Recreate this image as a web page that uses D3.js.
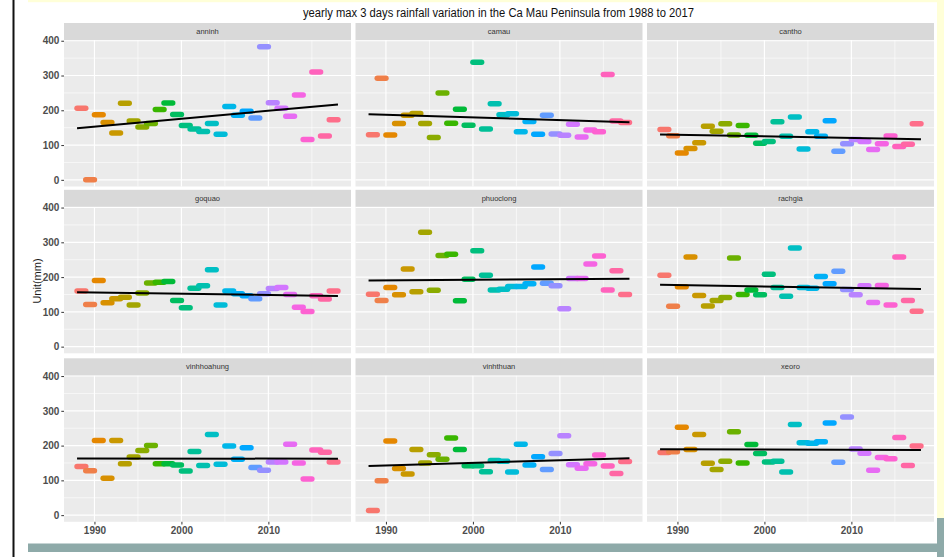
<!DOCTYPE html>
<html>
<head>
<meta charset="utf-8">
<script src="https://cdn.jsdelivr.net/npm/d3@7"></script>
<style>
  html, body { margin: 0; padding: 0; background: #ffffff; }
  svg { display: block; font-family: "Liberation Sans", Arial, sans-serif; }
</style>
</head>
<body>
<svg id="chart" width="944" height="557"></svg>
<script>
// ---- data -------------------------------------------------------------
const chartTitle = "yearly max 3 days rainfall variation in the Ca Mau Peninsula from 1988 to 2017";
const yAxisTitle = "Unit(mm)";
const years = d3.range(1988, 2018);
const stations = ["anninh", "camau", "cantho", "goquao", "phuoclong", "rachgia", "vinhhoahung", "vinhthuan", "xeoro"];

// yearly maximum 3-day rainfall (mm), 1988..2017
const anninh      = [206, 0, 187, 165, 135, 220, 169, 152, 162, 202, 221, 188, 156, 146, 139, 162, 131, 211, 186, 197, 178, 383, 222, 206, 183, 244, 116, 310, 126, 173];
const camau       = [130, 292, 129, 162, 186, 191, 162, 122, 250, 163, 203, 157, 338, 146, 219, 187, 190, 138, 168, 131, 186, 132, 128, 160, 123, 143, 138, 303, 169, 165];
const cantho      = [145, 127, 77, 90, 107, 154, 140, 161, 129, 156, 128, 105, 110, 167, 125, 181, 89, 138, 125, 170, 82, 104, 116, 110, 87, 104, 126, 96, 102, 161];
const goquao      = [160, 121, 190, 126, 138, 142, 120, 154, 183, 185, 187, 133, 112, 168, 175, 221, 120, 160, 152, 146, 138, 152, 167, 170, 150, 113, 101, 146, 137, 160];
const phuoclong   = [151, 133, 170, 149, 223, 158, 329, 162, 262, 266, 132, 194, 276, 205, 163, 165, 173, 173, 181, 229, 182, 175, 109, 196, 196, 238, 261, 163, 218, 150];
const rachgia     = [205, 116, 172, 258, 147, 117, 133, 141, 255, 150, 163, 149, 208, 170, 145, 284, 170, 168, 202, 181, 217, 164, 149, 175, 127, 176, 120, 258, 133, 102];
const vinhhoahung = [140, 128, 215, 106, 215, 148, 167, 186, 200, 148, 148, 144, 127, 183, 143, 232, 146, 199, 161, 194, 137, 129, 153, 153, 204, 150, 104, 187, 181, 153];
const vinhthuan   = [13, 99, 213, 134, 118, 189, 150, 174, 161, 222, 189, 142, 142, 125, 157, 155, 124, 204, 144, 168, 131, 177, 228, 145, 135, 148, 173, 141, 120, 154];
const xeoro       = [180, 182, 253, 189, 232, 149, 131, 155, 240, 150, 203, 177, 153, 155, 124, 261, 208, 207, 211, 265, 152, 282, 190, 178, 129, 166, 162, 223, 143, 199];

const seriesByStation = { anninh, camau, cantho, goquao, phuoclong, rachgia, vinhhoahung, vinhthuan, xeoro };

const yTicks = [0, 100, 200, 300, 400];
const yMinor = [50, 150, 250, 350];
const xTicks = [1990, 2000, 2010];
const xMinor = [1995, 2005, 2015];

// ---- discrete hue palette (HCL / polar Luv, c = 100, l = 65) ----------
function polarLuvToHex(h, c, l) {
  const WX = 95.047, WY = 100.0, WZ = 108.883;
  const hr = h * Math.PI / 180;
  const U = c * Math.cos(hr), V = c * Math.sin(hr);
  const Y = WY * (l > 7.999592 ? Math.pow((l + 16) / 116, 3) : l / 903.3);
  const t = WX + WY + WZ, x = WX / t, y = WY / t;
  const uN = 2 * x / (6 * y - x + 1.5), vN = 4.5 * y / (6 * y - x + 1.5);
  const u = U / (13 * l) + uN, v = V / (13 * l) + vN;
  const X = 9.0 * Y * u / (4 * v);
  const Z = -X / 3 - 5 * Y + 3 * Y / v;
  const gam = q => q <= 0.0031308 ? 12.92 * q : 1.055 * Math.pow(q, 1 / 2.4) - 0.055;
  const r = gam(( 3.240479 * X - 1.537150 * Y - 0.498535 * Z) / WY);
  const g = gam((-0.969256 * X + 1.875992 * Y + 0.041556 * Z) / WY);
  const b = gam(( 0.055648 * X - 0.204043 * Y + 1.057311 * Z) / WY);
  const to = q => Math.round(255 * Math.max(0, Math.min(1, q)));
  return d3.rgb(to(r), to(g), to(b)).formatHex();
}
const yearColors = years.map((_, i) => polarLuvToHex((15 + i * 360 / years.length) % 360, 100, 65));

// ---- layout -----------------------------------------------------------
const svg = d3.select("#chart");
const colLeft = [64, 355.5, 647];
const panelW = 287;
const panelTop = [40, 206.8, 375.3];
const panelH = 146.5;
const stripH = 17;

// page decoration around the figure
svg.append("rect").attr("x", 0).attr("y", 0).attr("width", 944).attr("height", 557).attr("fill", "#ffffff");
svg.append("rect").attr("x", 28).attr("y", 0).attr("width", 916).attr("height", 2.2).attr("fill", "#ffffd8");
svg.append("rect").attr("x", 937).attr("y", 0).attr("width", 7).attr("height", 518).attr("fill", "#ffffd8");
svg.append("rect").attr("x", 937).attr("y", 518).attr("width", 7).attr("height", 39).attr("fill", "#8eaaa9");
svg.append("rect").attr("x", 28).attr("y", 543.5).attr("width", 916).attr("height", 8.5).attr("fill", "#8eaaa9");
svg.append("rect").attr("x", 12.5).attr("y", 0).attr("width", 2).attr("height", 557).attr("fill", "#111111");

// scales (5% expansion of the data range, as in the plotting defaults)
const allVals = stations.flatMap(s => seriesByStation[s]);
const [vMin, vMax] = d3.extent(allVals);
const vPad = 0.05 * (vMax - vMin);
const x = d3.scaleLinear().domain([years[0] - 1.5, years[years.length - 1] + 1 + 1.5]).range([0, panelW]);
const y = d3.scaleLinear().domain([vMin - vPad, vMax + vPad]).range([panelH, 0]);

function linearFit(xs, ys) {
  const mx = d3.mean(xs), my = d3.mean(ys);
  let sxy = 0, sxx = 0;
  xs.forEach((xv, i) => { sxy += (xv - mx) * (ys[i] - my); sxx += (xv - mx) * (xv - mx); });
  const slope = sxy / sxx;
  return { slope, intercept: my - slope * mx };
}

// title
svg.append("text")
  .attr("x", 498.5).attr("y", 16.5)
  .attr("text-anchor", "middle")
  .attr("font-size", 12)
  .attr("textLength", 391).attr("lengthAdjust", "spacingAndGlyphs")
  .attr("fill", "#111")
  .text(chartTitle);

// y axis title
svg.append("text")
  .attr("transform", "translate(40.5,281) rotate(-90)")
  .attr("text-anchor", "middle")
  .attr("font-size", 11)
  .attr("fill", "#1a1a1a")
  .text(yAxisTitle);

stations.forEach((name, idx) => {
  const col = idx % 3, row = Math.floor(idx / 3);
  const values = seriesByStation[name];
  const g = svg.append("g").attr("transform", `translate(${colLeft[col]},${panelTop[row]})`);

  g.append("rect").attr("width", panelW).attr("height", panelH).attr("fill", "#ebebeb");

  // grid
  g.selectAll(".ymin").data(yMinor).join("line")
    .attr("x1", 0).attr("x2", panelW).attr("y1", d => y(d)).attr("y2", d => y(d))
    .attr("stroke", "#ffffff").attr("stroke-width", 0.6);
  g.selectAll(".xmin").data(xMinor).join("line")
    .attr("y1", 0).attr("y2", panelH).attr("x1", d => x(d)).attr("x2", d => x(d))
    .attr("stroke", "#ffffff").attr("stroke-width", 0.6);
  g.selectAll(".ymaj").data(yTicks).join("line")
    .attr("x1", 0).attr("x2", panelW).attr("y1", d => y(d)).attr("y2", d => y(d))
    .attr("stroke", "#ffffff").attr("stroke-width", 1.15);
  g.selectAll(".xmaj").data(xTicks).join("line")
    .attr("y1", 0).attr("y2", panelH).attr("x1", d => x(d)).attr("x2", d => x(d))
    .attr("stroke", "#ffffff").attr("stroke-width", 1.15);

  // one short horizontal bar per year
  g.selectAll(".bar").data(values.map((v, i) => ({ year: years[i], v, i }))).join("line")
    .attr("x1", d => x(d.year)).attr("x2", d => x(d.year + 1))
    .attr("y1", d => y(d.v)).attr("y2", d => y(d.v))
    .attr("stroke", d => yearColors[d.i])
    .attr("stroke-width", 5.5)
    .attr("stroke-linecap", "round");

  // linear trend
  const fit = linearFit(years.map(yr => yr + 0.5), values);
  const x0 = years[0], x1 = years[years.length - 1] + 1;
  g.append("line")
    .attr("x1", x(x0)).attr("x2", x(x1))
    .attr("y1", y(fit.intercept + fit.slope * x0))
    .attr("y2", y(fit.intercept + fit.slope * x1))
    .attr("stroke", "#000000").attr("stroke-width", 2);

  // strip
  g.append("rect").attr("y", -stripH).attr("width", panelW).attr("height", stripH).attr("fill", "#d9d9d9");
  g.append("text")
    .attr("x", panelW / 2).attr("y", -stripH / 2 + 2.6)
    .attr("text-anchor", "middle").attr("font-size", 7.5).attr("fill", "#333")
    .text(name);

  // axes
  if (col === 0) {
    const ax = g.append("g").call(d3.axisLeft(y).tickValues(yTicks).tickSize(2.7).tickPadding(2));
    ax.select(".domain").remove();
    ax.selectAll("line").attr("stroke", "#333333").attr("stroke-width", 1);
    ax.selectAll("text").attr("font-size", 10).attr("font-weight", "bold").attr("fill", "#4d4d4d")
      .attr("font-family", "Liberation Sans, Arial, sans-serif");
  }
  if (row === 2) {
    const ax = g.append("g").attr("transform", `translate(0,${panelH})`)
      .call(d3.axisBottom(x).tickValues(xTicks).tickFormat(d3.format("d")).tickSize(2.7).tickPadding(2.5));
    ax.select(".domain").remove();
    ax.selectAll("line").attr("stroke", "#333333").attr("stroke-width", 1);
    ax.selectAll("text").attr("font-size", 10).attr("font-weight", "bold").attr("fill", "#4d4d4d")
      .attr("font-family", "Liberation Sans, Arial, sans-serif");
  }
});
</script>
</body>
</html>
